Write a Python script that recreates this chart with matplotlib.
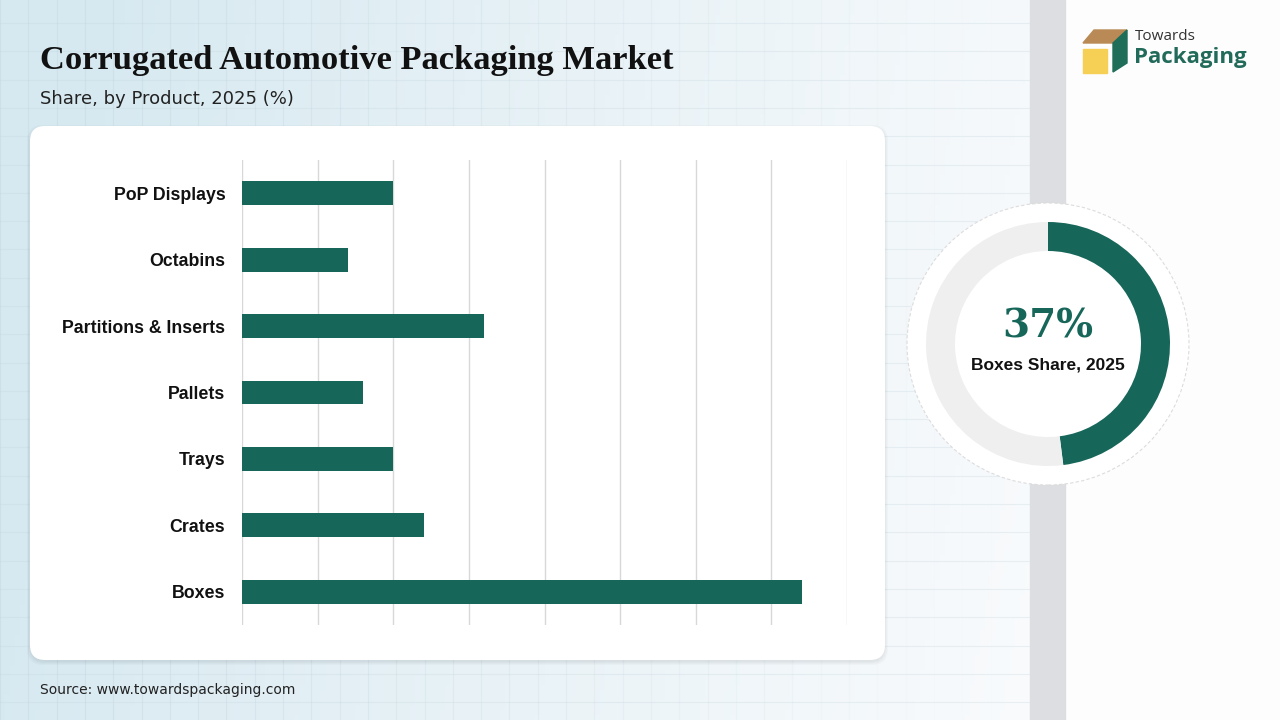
import numpy as np
import matplotlib
matplotlib.use("Agg")
import matplotlib.pyplot as plt
from matplotlib.patches import FancyBboxPatch, Circle, Polygon, Rectangle

categories = ["Boxes", "Crates", "Trays", "Pallets", "Partitions & Inserts", "Octabins", "PoP Displays"]
shares = [37, 12, 10, 8, 16, 7, 10]
x_ticks = [0, 5, 10, 15, 20, 25, 30, 35, 40]
donut_values = [48, 52]
title = "Corrugated Automotive Packaging Market"
subtitle = "Share, by Product, 2025 (%)"
source = "Source: www.towardspackaging.com"
donut_big = "37%"
donut_label = "Boxes Share, 2025"

GREEN = "#17665a"
W, H = 1280, 720
fig = plt.figure(figsize=(12.8, 7.2), dpi=100)

def fx(px):
    return px / W
def fy(py):
    return 1 - py / H

# background
bg = fig.add_axes([0, 0, 1, 1])
bg.set_xlim(0, W); bg.set_ylim(H, 0); bg.axis("off")
xx = np.linspace(0, 1, 256)
yy = np.linspace(0, 1, 144)
X, Y = np.meshgrid(xx, yy)
t = np.clip(X * 1.25 - 0.12 * (1 - Y), 0, 1) ** 0.9
c0 = np.array([0.845, 0.915, 0.945]); c1 = np.array([0.975, 0.983, 0.99])
img = c0[None, None, :] * (1 - t[..., None]) + c1[None, None, :] * t[..., None]
bg.imshow(img, extent=[0, W, H, 0], aspect="auto", zorder=0)
for gx in np.arange(0, 1030, 28.3):
    a = max(0.0, 0.45 * (1 - gx / 1000))
    bg.plot([gx, gx], [0, H], color="#c4d6de", lw=0.8, alpha=a, zorder=1)
for gy in np.arange(23, H, 28.3):
    bg.plot([0, 1030], [gy, gy], color="#c4d6de", lw=0.8, alpha=0.3, zorder=1)
# right panel
bg.add_patch(Rectangle((1065, 0), 215, H, color="#fdfdfd", zorder=2))
bg.add_patch(Rectangle((1030, 0), 35, H, color="#dddee1", zorder=2))

# card with shadow
for i in range(4):
    bg.add_patch(FancyBboxPatch((30 - i, 126 + 2 - i), 855 + 2 * i, 534 + 2 * i,
                                boxstyle="round,pad=0,rounding_size=16",
                                fc="#000000", ec="none", alpha=0.02, zorder=3))
bg.add_patch(FancyBboxPatch((30, 126), 855, 534, boxstyle="round,pad=0,rounding_size=15",
                            fc="white", ec="none", zorder=4))

# titles
fig.text(fx(40), fy(61), title, fontsize=24.8, fontweight="bold", family="Liberation Serif",
         color="#111111", va="center", ha="left")
fig.text(fx(40), fy(99), subtitle, fontsize=13, family="DejaVu Sans",
         color="#222222", va="center", ha="left")
fig.text(fx(40), fy(690), source, fontsize=10, family="DejaVu Sans",
         color="#222222", va="center", ha="left")

# bar chart
ax = fig.add_axes([fx(242), fy(625), 605 / W, 465 / H])
ax.set_facecolor("none")
ypos = np.arange(len(categories))
ax.barh(ypos, shares, height=0.36, color=GREEN, zorder=3)
ax.set_xlim(x_ticks[0], x_ticks[-1])
ax.set_ylim(-0.5, len(categories) - 0.5)
ax.set_xticks(x_ticks)
ax.set_xticklabels([])
ax.tick_params(axis="x", length=0)
ax.tick_params(axis="y", length=0, pad=12)
ax.set_yticks(ypos)
ax.set_yticklabels(categories, fontsize=12.8, fontweight="bold", family="Liberation Sans", color="#111111")
ax.grid(axis="x", color="#d8d8d8", lw=1, zorder=0)
for s in ax.spines.values():
    s.set_visible(False)

# donut
cx, cy, R = 1048, 344, 160
dax = fig.add_axes([fx(cx - R), fy(cy + R), 2 * R / W, 2 * R / H])
dax.add_patch(Circle((0, 0), 141, fc="white", ec="#dcdcdc", lw=0.8, ls=(0, (3, 2)), zorder=0))
dax.pie(donut_values, radius=122, startangle=90, counterclock=False,
        colors=[GREEN, "#efefef"], wedgeprops=dict(width=29, edgecolor="none"),
        frame=True)
dax.set_xlim(-R, R); dax.set_ylim(-R, R); dax.set_aspect("equal"); dax.axis("off")
dax.text(0, 18, donut_big, fontsize=28, fontweight="bold", family="DejaVu Serif",
         color=GREEN, ha="center", va="center")
dax.text(0, -21, donut_label, fontsize=12.5, fontweight="bold", family="Liberation Sans",
         color="#111111", ha="center", va="center")

# logo
lax = fig.add_axes([0, 0, 1, 1]); lax.set_xlim(0, W); lax.set_ylim(H, 0); lax.axis("off")
lax.add_patch(Polygon([[1083, 43], [1094, 30], [1127, 30], [1113, 43]], color="#b98a55"))
lax.add_patch(Polygon([[1113, 43], [1127, 30], [1127, 63], [1113, 72]], color="#1f6e5a"))
lax.add_patch(Rectangle((1083, 49), 24, 24, color="#f6cf55"))
lax.text(1135, 36, "Towards", fontsize=11, family="Open Sans", color="#333333", va="center")
lax.text(1134, 57, "Packaging", fontsize=16, fontweight="bold", family="Open Sans", color="#226b5b", va="center")

fig.savefig("out.png", dpi=100)
